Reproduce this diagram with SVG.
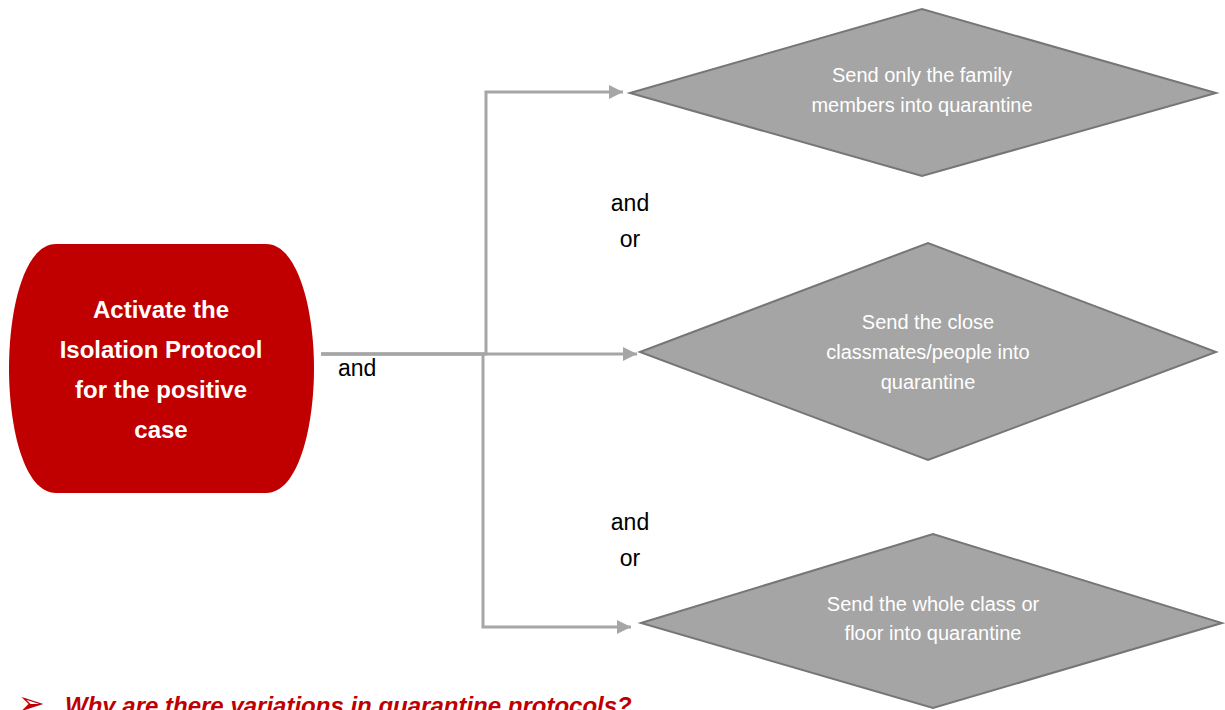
<svg xmlns="http://www.w3.org/2000/svg" width="1225" height="710" viewBox="0 0 1225 710">
<defs>
<marker id="arr" markerUnits="userSpaceOnUse" markerWidth="16" markerHeight="16" refX="14" refY="8" orient="auto">
<path d="M0,1 L14,8 L0,15 Z" fill="#a6a6a6"/>
</marker>
<style>
.conn{fill:none;stroke:#a6a6a6;stroke-width:3}
.dia{fill:#a5a5a5;stroke:#767676;stroke-width:2}
.dt{font-family:"Liberation Sans",Arial,sans-serif;font-size:20px;fill:#ffffff;text-anchor:middle}
.lbl{font-family:"Liberation Sans",Arial,sans-serif;font-size:23px;fill:#000000}
.rt{font-family:"Liberation Sans",Arial,sans-serif;font-size:24px;font-weight:bold;fill:#ffffff;text-anchor:middle}
</style>
</defs>
<rect width="1225" height="710" fill="#ffffff"/>
<g id="connectors">
<path class="conn" d="M321 354 H486 V92 H623" marker-end="url(#arr)"/>
<path class="conn" d="M321 354 H637" marker-end="url(#arr)"/>
<path class="conn" d="M321 354 H483 V627 H631" marker-end="url(#arr)"/>
</g>
<g id="start">
<path d="M56 244 H266 C298 244 314 310 314 368 C314 428 298 493 266 493 H56 C24 493 9 428 9 368 C9 310 24 244 56 244 Z" fill="#c00000"/>
<text class="rt" x="161" y="318">Activate the</text>
<text class="rt" x="161" y="358">Isolation Protocol</text>
<text class="rt" x="161" y="398">for the positive</text>
<text class="rt" x="161" y="438">case</text>
</g>
<g id="family">
<polygon class="dia" points="630,93 922,9 1216,93 922,176"/>
<text class="dt" x="922" y="82">Send only the family</text>
<text class="dt" x="922" y="112">members into quarantine</text>
</g>
<g id="classmates">
<polygon class="dia" points="640,352 928,243 1216,352 928,460"/>
<text class="dt" x="928" y="329">Send the close</text>
<text class="dt" x="928" y="359">classmates/people into</text>
<text class="dt" x="928" y="389">quarantine</text>
</g>
<g id="wholeclass">
<polygon class="dia" points="641,623 933,534 1222,623 933,708"/>
<text class="dt" x="933" y="611">Send the whole class or</text>
<text class="dt" x="933" y="640">floor into quarantine</text>
</g>
<g id="labels">
<text class="lbl" x="338" y="376">and</text>
<text class="lbl" x="630" y="211" text-anchor="middle">and</text>
<text class="lbl" x="630" y="247" text-anchor="middle">or</text>
<text class="lbl" x="630" y="530" text-anchor="middle">and</text>
<text class="lbl" x="630" y="566" text-anchor="middle">or</text>
</g>
<g id="question">
<text x="18" y="714" font-family="'DejaVu Sans',sans-serif" font-size="32" fill="#c00000">➢</text>
<text x="65" y="714" font-family="'Liberation Sans',Arial,sans-serif" font-size="24" font-weight="bold" font-style="italic" fill="#c00000">Why are there variations in quarantine protocols?</text>
</g>
</svg>
